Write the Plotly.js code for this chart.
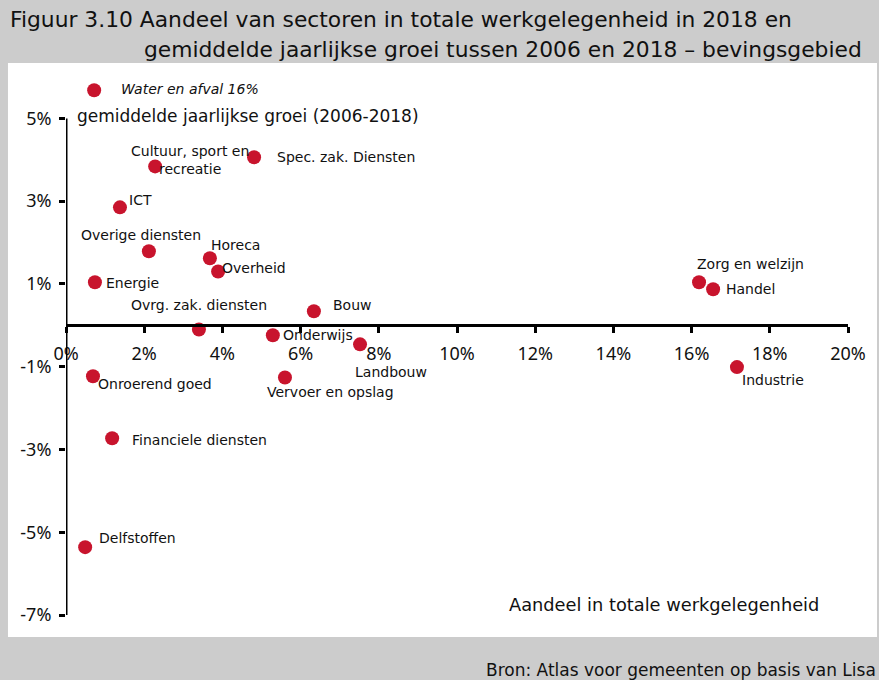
<!DOCTYPE html>
<html>
<head>
<meta charset="utf-8">
<script src="https://cdn.plot.ly/plotly-3.0.1.min.js"></script>
<style>html,body{margin:0;padding:0;background:#cccccc;}</style>
</head>
<body>
<div id="chart" style="width:879px;height:680px;"></div>
<script>
// ---- data ----
const sectors = ["Water en afval 16%", "Cultuur, sport en<br>recreatie", "Spec. zak. Diensten", "ICT",
  "Overige diensten", "Horeca", "Overheid", "Energie", "Ovrg. zak. diensten", "Bouw", "Onderwijs",
  "Landbouw", "Onroerend goed", "Vervoer en opslag", "Financiele diensten", "Delfstoffen",
  "Zorg en welzijn", "Handel", "Industrie"];
const share = [0.72, 2.28, 4.81, 1.38, 2.12, 3.68, 3.89, 0.74, 3.40, 6.34, 5.29, 7.52, 0.69, 5.60, 1.18, 0.49, 16.19, 16.55, 17.16];
const growth = [5.68, 3.84, 4.06, 2.85, 1.79, 1.62, 1.30, 1.04, -0.10, 0.34, -0.24, -0.46, -1.23, -1.26, -2.73, -5.36, 1.04, 0.87, -1.01];
const xTickVals = [0, 2, 4, 6, 8, 10, 12, 14, 16, 18, 20];
const xTickText = ["0%", "2%", "4%", "6%", "8%", "10%", "12%", "14%", "16%", "18%", "20%"];
const yTickVals = [-7, -5, -3, -1, 1, 3, 5];
const yTickText = ["-7%", "-5%", "-3%", "-1%", "1%", "3%", "5%"];

// ---- label placement (pixel offsets from each point) ----
const labelAnchor = ["left","center","left","left","center","left","left","left","center","left","left",
  "center","left","center","left","left","center","left","left"];
const labelDx = [25, 35, 21, 7, -8, -1, 2, 9, 0, 17, 8, 31, 3, 46, 18, 12, 51, 11, 3];
const labelDy = [1, 6, 0, 7, 16, 13, 4, -1, 24, 6, 0, -28, -8, -15, -2, 9, 18, 0, -13];

const FONT = "DejaVu Sans, Noto Sans, sans-serif";
const TICKFONT = "Noto Sans, Open Sans, sans-serif";
const TXT = "#111111";
const RED = "#c8142d";

const annotations = sectors.map((s, i) => ({
  x: share[i], y: growth[i], xref: "x", yref: "y",
  text: i === 0 ? "<i>" + s + "</i>" : s,
  showarrow: false, xanchor: labelAnchor[i], yanchor: "middle",
  xshift: labelDx[i], yshift: labelDy[i], align: "center",
  font: {family: FONT, size: 14, color: TXT}
}));

annotations.push(
  {xref: "paper", yref: "paper", x: -0.0742, y: 1.106, xanchor: "left", yanchor: "middle", showarrow: false,
   text: "Figuur 3.10 Aandeel van sectoren in totale werkgelegenheid in 2018 en",
   font: {family: FONT, size: 21.8, color: TXT}},
  {xref: "paper", yref: "paper", x: 0.0972, y: 1.052, xanchor: "left", yanchor: "middle", showarrow: false,
   text: "gemiddelde jaarlijkse groei tussen 2006 en 2018 \u2013 bevingsgebied",
   font: {family: FONT, size: 21.8, color: TXT}},
  {xref: "paper", yref: "paper", x: 0.0115, y: 0.9275, xanchor: "left", yanchor: "middle", showarrow: false,
   text: "gemiddelde jaarlijkse groei (2006-2018)",
   font: {family: FONT, size: 17, color: TXT}},
  {xref: "paper", yref: "paper", x: 0.9655, y: 0.0186, xanchor: "right", yanchor: "middle", showarrow: false,
   text: "Aandeel in totale werkgelegenheid",
   font: {family: FONT, size: 17.8, color: TXT}},
  {xref: "paper", yref: "paper", x: 1.0384, y: -0.1022, xanchor: "right", yanchor: "middle", showarrow: false,
   text: "Bron: Atlas voor gemeenten op basis van Lisa",
   font: {family: FONT, size: 17, color: TXT}}
);

const trace = {
  type: "scatter", mode: "markers", x: share, y: growth,
  marker: {size: 14, color: RED, line: {width: 0}},
  cliponaxis: false, hoverinfo: "skip"
};

const layout = {
  width: 879, height: 680,
  margin: {l: 66, r: 31, t: 77, b: 65, pad: 0},
  paper_bgcolor: "#cccccc", plot_bgcolor: "rgba(0,0,0,0)",
  showlegend: false,
  font: {family: FONT, color: TXT},
  xaxis: {
    range: [0, 20], anchor: "free", position: 7/13,
    showgrid: false, zeroline: false, showline: true, linewidth: 3, linecolor: "#000",
    ticks: "outside", ticklen: 6, tickwidth: 3, tickcolor: "#000",
    tickvals: xTickVals, ticktext: xTickText, ticklabelstandoff: 5,
    tickfont: {family: TICKFONT, size: 18, color: TXT}, fixedrange: true
  },
  yaxis: {
    range: [-7, 6], showgrid: false, zeroline: false, showline: false,
    ticks: "outside", ticklen: 6, tickwidth: 3, tickcolor: "#000",
    tickvals: yTickVals, ticktext: yTickText, ticklabelstandoff: 4,
    tickfont: {family: TICKFONT, size: 18, color: TXT}, fixedrange: true
  },
  shapes: [
    {type: "rect", xref: "paper", yref: "paper", x0: -0.0742, x1: 1.0371, y0: -0.0409, y1: 1.026,
     fillcolor: "#ffffff", line: {width: 0}, layer: "below"},
    {type: "line", xref: "x", yref: "y", x0: 0, x1: 0, y0: yTickVals[0], y1: yTickVals[yTickVals.length - 1],
     line: {color: "#000", width: 3}, layer: "above"}
  ],
  annotations: annotations
};

Plotly.newPlot("chart", [trace], layout, {displayModeBar: false, staticPlot: true});
</script>
</body>
</html>
